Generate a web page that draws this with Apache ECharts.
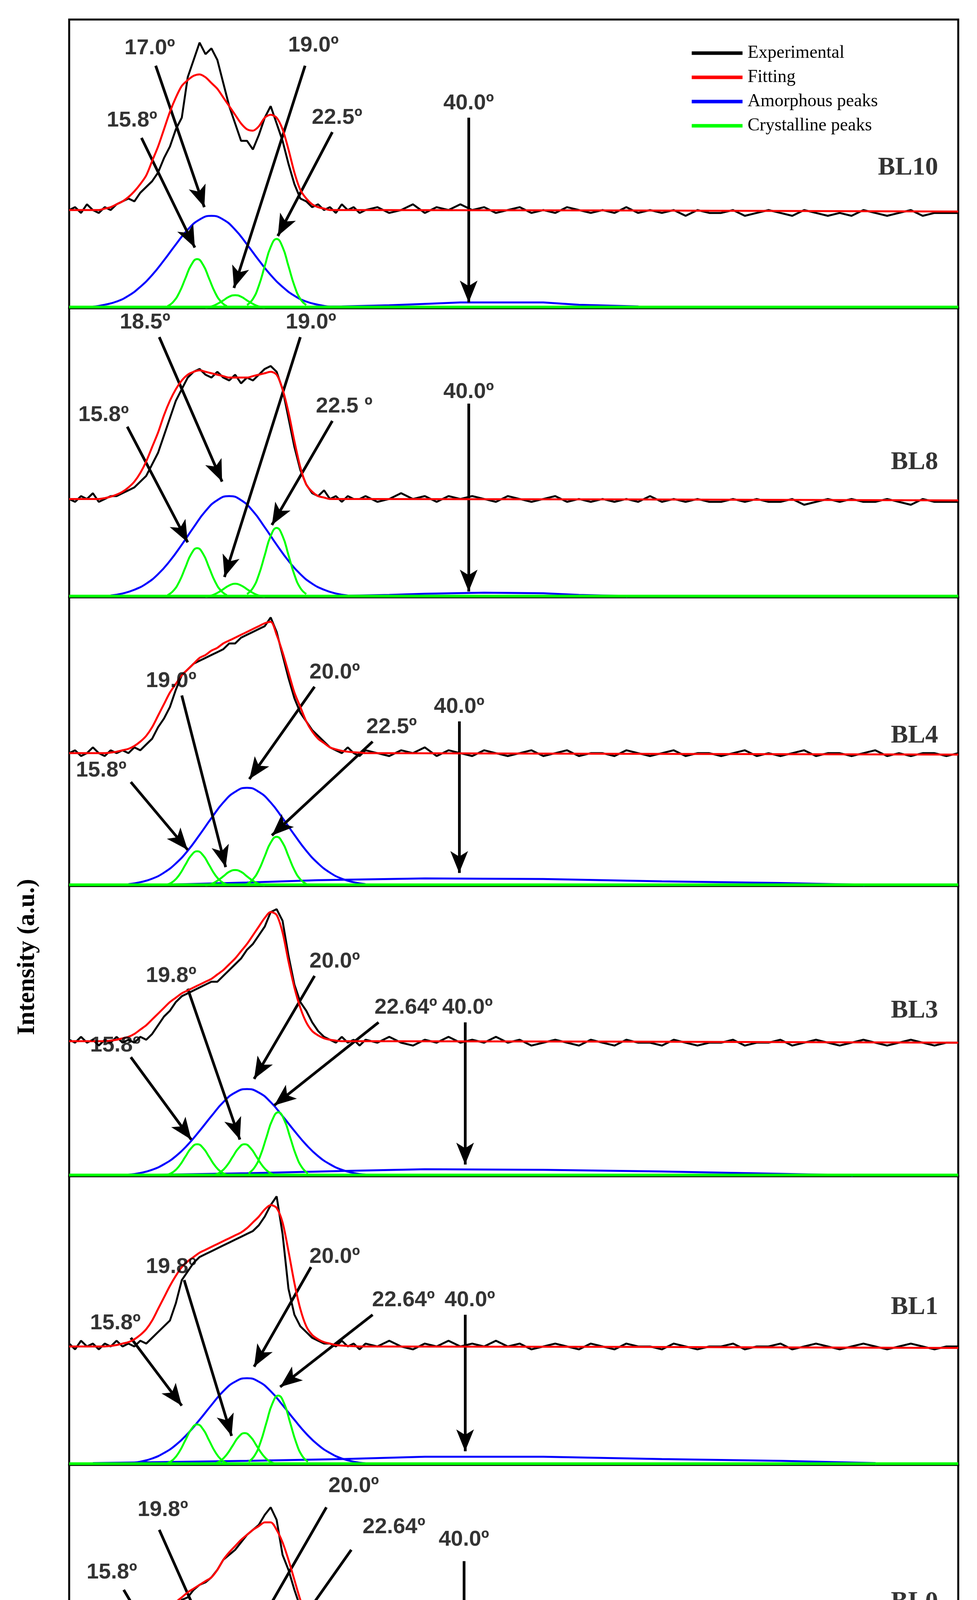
<!DOCTYPE html>
<html><head><meta charset="utf-8">
<script src="https://cdn.jsdelivr.net/npm/echarts@6/dist/echarts.min.js"></script>
<style>html,body{margin:0;padding:0;background:#fff;overflow:hidden}#c{width:2500px;height:4569px}</style>
</head><body><div id="c"></div>
<script>
// sample x grid for experimental / fitting curves
const XS = []; for (let x = 5; x < 30; x += 0.5) XS.push(x); for (let x = 30; x <= 80; x++) XS.push(x);
const xTicks = [5, 20, 35, 50, 65, 80];
const sampleNames = ['BL10','BL8','BL4','BL3','BL1','BL0'];

// Experimental (101 values on XS)
const exp10 = [34,35,33,36,34,33,35,34,36,37, 38,37,40,42,44,47,52,56,62,66, 80,86,92,88,90,86,78,70,64,58, 58,55,60,66,70,64,58,50,43,38, 37,35,36,34,35,33,36,34,35,33,
 34,35,33,34,36,33,35,34,36,34, 35,33,34,35,33,34,33,35,34,33, 34,33,35,33,34,33,34,32,34,33, 33,34,32,33,34,33,32,34,33,32, 33,32,34,33,32,33,34,32,33,33, 33];
const exp8 = [34,33,35,34,36,33,34,35,35,36, 37,38,40,42,46,50,56,62,68,72, 76,78,79,77,76,78,76,75,77,74, 76,75,77,79,80,78,72,62,52,44, 39,36,35,37,34,35,33,35,34,34,
 35,33,34,36,34,35,33,35,34,35, 34,33,35,34,33,34,35,33,34,33, 34,33,34,33,35,33,34,33,34,33, 33,34,33,34,33,33,34,32,33,34, 33,34,33,33,34,33,32,34,33,33, 33];
const exp4 = [46,47,45,46,48,46,45,47,46,47, 46,48,47,49,51,55,58,62,68,73, 75,77,78,79,80,81,82,84,84,86, 87,88,89,90,93,88,80,72,65,60, 57,54,52,50,48,47,46,48,46,45,
 47,46,45,47,46,48,45,47,46,45, 47,46,45,46,47,45,46,47,45,46, 46,45,47,46,45,46,47,45,46,46, 45,46,47,45,46,45,46,47,45,46, 46,45,46,47,45,46,45,46,46,45, 46];
const exp3 = [47,46,48,46,47,45,47,46,48,46, 47,46,48,47,49,52,55,57,60,62, 63,64,65,66,67,67,69,71,73,75, 78,80,83,86,91,92,88,76,66,60, 57,53,50,48,47,46,48,46,47,45,
 47,46,48,46,45,47,46,48,46,47, 46,48,46,47,45,46,47,46,45,47, 46,45,47,46,46,45,47,46,45,46, 46,47,45,46,46,47,45,46,47,46, 45,46,47,46,45,46,47,46,45,46, 46];
const exp1 = [42,40,43,41,42,40,42,41,43,41, 42,41,43,42,44,46,48,50,56,64, 67,70,72,73,74,75,76,77,78,79, 80,81,83,86,90,93,80,61,52,48, 46,44,43,42,42,41,43,41,42,40,
 42,41,43,41,40,42,41,43,41,42, 41,43,41,42,40,41,42,41,40,42, 41,40,42,41,41,40,42,41,40,41, 41,42,40,41,41,42,40,41,42,41, 40,41,42,41,40,41,42,41,40,41, 41];
const exp0 = [30,29,31,29,30,28,30,29,31,29, 30,29,31,30,33,32,35,38,42,46, 47,50,52,53,55,58,62,64,66,69, 72,74,76,80,83,78,64,58,50,43, 37,34,32,30,31,29,30,28,30,29,
 30,29,31,29,30,31,29,30,28,30, 31,29,30,29,31,30,29,30,31,29, 30,29,30,31,29,30,29,30,29,30, 29,30,29,30,29,29,30,28,29,30, 29,30,29,29,30,29,28,30,29,29, 29];

// Fitting (51 values on XS from 5 to 30) + value at 80
const fit10 = [34,34,34,34,34,34,34.5,35,36,37, 38.5,40.5,43,46,51,56,62,68,73,77, 79,80.5,81,80,78,76,73,70,67,64, 62,61.5,63,66,67,66,62,55,47,41, 38,36,35,34.5,34,34,34,34,34,34, 34];
const fit8 = [34,34,34,34,34,34,34.3,34.8,35.5,36.5, 38,40,43,47,52,57,63,68,72,75, 77,78,78.5,78,77.5,77,76.5,76,76,76, 76,76.5,77,77.5,78,77,72,64,54,45, 39,36.5,35,34.5,34,34,34,34,34,34, 34];
const fit4 = [46,46,46,46,46,46,46,46.2,46.5,47, 47.5,48.5,50,52,55,59,63,67,70,73, 75,77,79,80,81.5,82.5,84,85,86,87, 88,89,90,91,91.5,87,81,74,67,62, 57,53.5,51,49.5,48,47.3,46.8,46.5,46.3,46.2, 46];
const fit3 = [46.5,46.5,46.5,46.5,46.5,46.5,46.5,46.7,47,47.5, 48,49,50.5,52,54,56,58,60,61.5,63, 64,65,66,67,68,69.5,71,73,75,77.5, 80,83,86,89,91,90,84,74,65,58, 53,50,48.5,47.5,47,46.7,46.5,46.5,46.5,46.5, 46.5];
const fit1 = [41,41,41,41,41,41,41,41.2,41.5,42, 42.5,43.5,45,47,50,54,58,62,65.5,68.5, 70.5,72,73.5,74.5,75.5,76.5,77.5,78.5,79.5,80.5, 82,84,86,88.5,90,89,84,74,63,54, 48,45,43.5,42.5,42,41.5,41.3,41.2,41.1,41, 41];
const fit0 = [29,29,29,29,29,29,29,29,29.2,29.4, 29.6,30,30.5,31.5,33,35,37.5,41,45,47, 49,50.5,52,53.5,55,58,62,65,67.5,70, 72,74,75.5,77,77,74,69,62,54,46, 40,36.5,34,32.5,31.5,30.5,30,29.5,29.3,29.1, 29];
const fitEnd = [33.5, 33.5, 45.5, 46, 40.5, 28.8];

// Amorphous main peak: [center, 21 values from center-10 to center+10 step 1]
const am10 = [17, [0.5,1.2,2.3,4.3,7.4,11.5,16.6,22.1,27.2,30.7,32,30.7,27.2,22.1,16.6,11.5,7.4,4.3,2.3,1.2,0.5]];
const am8  = [18.5, [0.6,1.3,2.6,4.7,8,12.6,18.2,24.2,29.8,33.6,35,33.6,29.8,24.2,18.2,12.6,8,4.7,2.6,1.3,0.6]];
const am4  = [20, [0.6,1.3,2.5,4.6,7.8,12.2,17.7,23.5,28.9,32.6,34,32.6,28.9,23.5,17.7,12.2,7.8,4.6,2.5,1.3,0.6]];
const am3  = [20, [0.5,1.1,2.2,4.1,6.9,10.8,15.6,20.7,25.5,28.8,30,28.8,25.5,20.7,15.6,10.8,6.9,4.1,2.2,1.1,0.5]];
const am1  = [20, [0.5,1.1,2.2,4.1,6.9,10.8,15.6,20.7,25.5,28.8,30,28.8,25.5,20.7,15.6,10.8,6.9,4.1,2.2,1.1,0.5]];
const am0  = [20, [0.5,1.1,2.3,4.2,7.1,11.2,16.1,21.4,26.4,29.8,31,29.8,26.4,21.4,16.1,11.2,7.1,4.2,2.3,1.1,0.5]];

// Broad amorphous hump near 40°
const br10 = [[21,0.3],[28,0.6],[32,1],[35,1.5],[38,2],[45,2],[48,1.2],[53,0.6],[53.1,0]];
const br8  = [[27,0.4],[32,0.8],[35,1.2],[40,1.6],[45,1.4],[48,0.8],[52,0.4],[52.1,0]];
const br4  = [[12,0.3],[20,1.2],[26,2],[35,2.6],[45,2.4],[55,1.6],[65,1],[72,0.4],[72.1,0]];
const br3  = [[10,0.3],[20,1],[28,1.8],[35,2.4],[45,2.2],[55,1.6],[65,0.8],[71,0.3],[71.1,0]];
const br1  = [[7,0.6],[20,1.4],[28,2],[35,2.8],[45,2.8],[55,2],[65,1.4],[73,0.6],[73.1,0]];
const br0  = [[29.5,0.8],[34.8,0.8],[35,2],[47.5,2],[47.6,1],[50,1],[50.1,0]];

// Crystalline peaks: [center, 11 values from center-2.5 to center+2.5 step 0.5]
const cr10 = [[15.8,[0.7,2.3,5.5,10.3,15,17,15,10.3,5.5,2.3,0.7]],[19,[0.2,0.6,1.5,2.7,4,4.5,4,2.7,1.5,0.6,0.2]],[22.5,[1.1,3.2,7.8,14.6,21.2,24,21.2,14.6,7.8,3.2,1.1]]];
const cr8  = [[15.8,[0.7,2.3,5.5,10.3,15,17,15,10.3,5.5,2.3,0.7]],[19,[0.2,0.6,1.5,2.8,4.1,4.7,4.1,2.8,1.5,0.6,0.2]],[22.5,[1.1,3.2,7.8,14.6,21.2,24,21.2,14.6,7.8,3.2,1.1]]];
const cr4  = [[15.8,[0.5,1.6,3.9,7.3,10.6,12,10.6,7.3,3.9,1.6,0.5]],[19,[0.2,0.7,1.8,3.3,4.9,5.5,4.9,3.3,1.8,0.7,0.2]],[22.5,[0.7,2.3,5.5,10.3,15,17,15,10.3,5.5,2.3,0.7]]];
const cr3  = [[15.8,[0.5,1.5,3.6,6.7,9.7,11,9.7,6.7,3.6,1.5,0.5]],[19.8,[0.5,1.5,3.6,6.7,9.7,11,9.7,6.7,3.6,1.5,0.5]],[22.64,[1,3,7.2,13.4,19.4,22,19.4,13.4,7.2,3,1]]];
const cr1  = [[15.8,[0.6,1.9,4.6,8.5,12.3,14,12.3,8.5,4.6,1.9,0.6]],[19.8,[0.5,1.5,3.6,6.7,9.7,11,9.7,6.7,3.6,1.5,0.5]],[22.64,[1.1,3.2,7.8,14.6,21.2,24,21.2,14.6,7.8,3.2,1.1]]];
const cr0  = [[15.8,[0.3,1,2.4,4.4,6.4,7.3,6.4,4.4,2.4,1,0.3]],[19.8,[0.5,1.5,3.6,6.7,9.7,11,9.7,6.7,3.6,1.5,0.5]],[22.64,[1.1,3.2,7.8,14.6,21.2,24,21.2,14.6,7.8,3.2,1.1]]];

// Annotations: [text, textX, textY, arrowFromX, arrowFromY, arrowToX, arrowToY]
const an10 = [['17.0º',11.8,90,12.3,84,16.4,35],['15.8º',10.3,65,11.1,59,15.6,21],['19.0º',25.6,91,24.9,84,18.9,7],['22.5º',27.6,66,27.2,61,22.6,25],['40.0º',38.7,71,38.7,66,38.7,2]];
const an8  = [['18.5º',11.4,95,12.6,90,17.9,40],['15.8º',7.9,63,9.9,59,15,19],['19.0º',25.4,95,24.5,90,18.1,7],['22.5 º',28.2,66,27.2,61,22.1,25],['40.0º',38.7,71,38.7,67,38.7,2]];
const an4  = [['19.0º',13.6,71,14.5,66,18.2,6.5],['20.0º',27.4,74,25.7,69,20.2,37],['15.8º',7.7,40,10.2,36,15,12.5],['22.5º',32.2,55,30.6,50,22.1,17.5],['40.0º',37.9,62,37.9,57,37.9,4.5]];
const an3  = [['19.8º',13.6,69,15,64.6,19.4,12.6],['20.0º',27.4,74,25.7,69,20.6,33.5],['15.8º',8.9,45,10.2,41,15.3,12.6],['22.64º',33.4,58,31.1,53,22.3,24.4],['40.0º',38.6,58,38.4,53,38.4,4]];
const an1  = [['19.8º',13.6,68.5,14.7,64,18.7,10],['20.0º',27.4,72,25.4,68.5,20.6,34],['15.8º',8.9,49,10.2,44,14.5,20.5],['22.64º',33.2,57,30.6,52,22.8,27],['40.0º',38.8,57,38.4,52,38.4,4.7]];
const an0  = [['19.8º',12.9,82,12.6,74,18.7,9],['20.0º',29,91.5,26.7,83,20.7,33.5],['15.8º',8.6,57,9.6,50,14.7,9],['22.64º',32.4,75,28.8,66,22.7,25],['40.0º',38.3,70,38.3,61.5,38.3,5]];
const nameY = [48.6, 46.6, 52, 57, 54.5, 45];

const EXP = [exp10,exp8,exp4,exp3,exp1,exp0], FIT = [fit10,fit8,fit4,fit3,fit1,fit0];
const AM = [am10,am8,am4,am3,am1,am0], BR = [br10,br8,br4,br3,br1,br0], CR = [cr10,cr8,cr4,cr3,cr1,cr0];
const AN = [an10,an8,an4,an3,an1,an0];

const tops = [50, 789, 1529, 2268, 3011, 3750];
const bottoms = [789, 1529, 2268, 3011, 3750, 4390];
const grids = [], xAxes = [], yAxes = [], series = [];
const lastIdx = 5;
for (let i = 0; i < 6; i++) {
  grids.push({left: 177, right: 48, top: tops[i], height: bottoms[i] - tops[i], show: true, borderColor: '#000', borderWidth: 5, backgroundColor: 'transparent'});
  const last = i === lastIdx;
  xAxes.push({type: 'value', gridIndex: i, min: 5, max: 80, interval: 15,
    axisLine: {show: false}, splitLine: {show: false},
    axisTick: {show: last, length: 18, lineStyle: {color: '#000', width: 2}},
    axisLabel: {show: last, margin: 50, fontFamily: 'Liberation Sans', fontWeight: 'bold', fontSize: 52, color: '#000'}});
  yAxes.push({type: 'value', gridIndex: i, min: 0, max: 100, show: false});
  const base = {xAxisIndex: i, yAxisIndex: i, type: 'line', showSymbol: false, symbol: 'none', animation: false, silent: true};
  series.push(Object.assign({}, base, {name: 'Crystalline peaks', z: 3, lineStyle: {color: '#00ff00', width: 7}, data: [[5, 0.4], [80, 0.4]]}));
  CR[i].forEach(p => {
    series.push(Object.assign({}, base, {name: 'Crystalline peaks', smooth: true, z: 3, lineStyle: {color: '#00ff00', width: 5},
      data: p[1].map((v, k) => [p[0] - 2.5 + k * 0.5, v])}));
  });
  series.push(Object.assign({}, base, {name: 'Amorphous peaks', smooth: true, z: 2, lineStyle: {color: '#0000ff', width: 5},
    data: AM[i][1].map((v, k) => [AM[i][0] - 10 + k, v])}));
  series.push(Object.assign({}, base, {name: 'Amorphous peaks', z: 2, lineStyle: {color: '#0000ff', width: 5}, data: BR[i]}));
  series.push(Object.assign({}, base, {name: 'Experimental', z: 4, lineStyle: {color: '#000', width: 5},
    data: EXP[i].map((v, k) => [XS[k], v]),
    markLine: {silent: true, symbol: ['none', 'arrow'], symbolSize: [34, 56], label: {show: false},
      lineStyle: {color: '#000', width: 7, type: 'solid'},
      data: AN[i].map(a => [{coord: [a[3], a[4]]}, {coord: [a[5], a[6]]}])}}));
  const fd = FIT[i].map((v, k) => [XS[k], v]); fd.push([80, fitEnd[i]]);
  series.push(Object.assign({}, base, {name: 'Fitting', smooth: 0.3, z: 5, lineStyle: {color: '#ff0000', width: 5}, data: fd}));
  series.push({type: 'scatter', xAxisIndex: i, yAxisIndex: i, symbolSize: 0, silent: true, animation: false, z: 6,
    label: {show: true, position: 'inside', formatter: p => p.data[2], fontFamily: 'Liberation Sans', fontWeight: 'bold', fontSize: 56, color: '#000'},
    data: AN[i].map(a => [a[1], a[2], a[0]])});
  series.push({type: 'scatter', xAxisIndex: i, yAxisIndex: i, symbolSize: 0, silent: true, animation: false, z: 6,
    label: {show: true, position: 'left', distance: 0, formatter: p => p.data[2], fontFamily: 'Liberation Serif', fontWeight: 'bold', fontSize: 66, color: '#000'},
    data: [[78.3, nameY[i], sampleNames[i]]]});
}

const chart = echarts.init(document.getElementById('c'), null, {renderer: 'canvas'});
chart.setOption({
  backgroundColor: '#fff',
  animation: false,
  grid: grids, xAxis: xAxes, yAxis: yAxes, series: series,
  legend: {orient: 'vertical', left: 1765, top: 108, itemWidth: 130, itemHeight: 9, itemGap: 16, icon: 'rect', selectedMode: false,
    textStyle: {fontFamily: 'Liberation Serif', fontSize: 46, color: '#000', padding: [0, 0, 0, 8]},
    data: [{name: 'Experimental', itemStyle: {color: '#000'}}, {name: 'Fitting', itemStyle: {color: '#ff0000'}},
           {name: 'Amorphous peaks', itemStyle: {color: '#0000ff'}}, {name: 'Crystalline peaks', itemStyle: {color: '#00ff00'}}]},
  graphic: [
    {type: 'text', left: 38, top: 2250, rotation: Math.PI / 2, origin: [0, 0],
      style: {text: 'Intensity (a.u.)', font: 'bold 64px "Liberation Serif"', fill: '#000', textAlign: 'center', textVerticalAlign: 'middle', x: 0, y: 0}},
    {type: 'group', left: 1160, top: 4480, children: [
      {type: 'text', style: {text: '2θ', font: 'italic bold 66px "Liberation Serif"', fill: '#000', x: 0, y: 0}},
      {type: 'text', style: {text: ' (º)', font: '66px "Liberation Serif"', fill: '#000', x: 72, y: 0}}]}
  ]
});
</script></body></html>
